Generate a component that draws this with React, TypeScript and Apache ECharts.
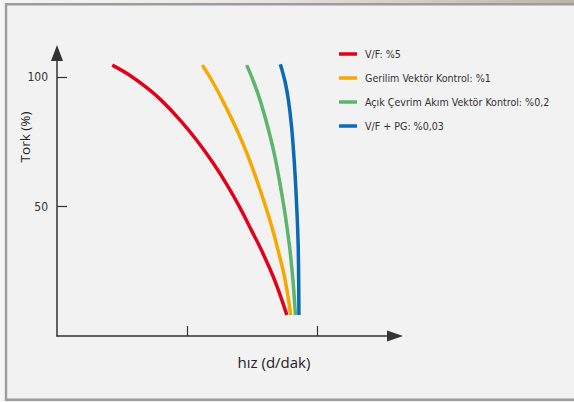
import React, { useEffect, useRef } from "react";
import * as echarts from "echarts";

const seriesNames = [
  "V/F: %5",
  "Gerilim Vektör Kontrol: %1",
  "Açık Çevrim Akım Vektör Kontrol: %0,2",
  "V/F + PG: %0,03",
];
const seriesColors = ["#e2001a", "#f6a800", "#5db46b", "#0a6ab4"];

const redX = [0.425, 0.556, 0.685, 0.801, 0.947, 1.073, 1.201, 1.309, 1.405, 1.495, 1.572, 1.674, 1.768];
const redY = [104.6, 100.8, 96.1, 91.1, 83.4, 75.7, 66.8, 58.3, 49.8, 40.9, 33.2, 21.6, 8.1];
const yellowX = [1.118, 1.198, 1.272, 1.366, 1.451, 1.532, 1.606, 1.655, 1.7, 1.755, 1.798];
const yellowY = [104.6, 98.1, 91.1, 81.5, 71.8, 60.9, 49.8, 41.7, 33.2, 21.6, 8.1];
const greenX = [1.459, 1.513, 1.562, 1.617, 1.665, 1.708, 1.746, 1.77, 1.792, 1.815, 1.834];
const greenY = [104.6, 98.1, 91.1, 81.5, 71.8, 60.9, 49.8, 41.7, 33.2, 21.6, 8.1];
const blueX = [1.718, 1.755, 1.78, 1.803, 1.819, 1.833, 1.844, 1.851, 1.856, 1.859, 1.861];
const blueY = [105.0, 98.1, 91.1, 81.5, 71.8, 60.9, 49.8, 41.7, 33.2, 21.6, 8.1];

const yTicks = [50, 100];
const xTicks = [1, 2];
const xAxisName = "hız (d/dak)";
const yAxisName = "Tork (%)";

const zip = (xs: number[], ys: number[]) => xs.map((x, i) => [x, ys[i]]);

export default function App() {
  const ref = useRef<HTMLDivElement>(null);
  useEffect(() => {
    if (!ref.current) return;
    const chart = echarts.init(ref.current, undefined, { renderer: "svg" });
    const allData = [
      zip(redX, redY),
      zip(yellowX, yellowY),
      zip(greenX, greenY),
      zip(blueX, blueY),
    ];
    const narrow = "'DejaVu Sans Condensed', 'Liberation Sans Narrow', sans-serif";
    chart.setOption({
      animation: false,
      backgroundColor: "#f2f2f2",
      graphic: [
        {
          type: "rect",
          silent: true,
          z: -10,
          shape: { x: 0, y: 0, width: 574, height: 3 },
          style: {
            fill: new echarts.graphic.LinearGradient(0, 0, 1, 0, [
              { offset: 0, color: "#f4f4f4" },
              { offset: 0.4, color: "#ece9e4" },
              { offset: 1, color: "#bdb4a6" },
            ]),
          },
        },
        {
          type: "rect",
          silent: true,
          z: -10,
          shape: { x: 0, y: 0, width: 5, height: 402 },
          style: { fill: "#f6f6f6" },
        },
        {
          type: "rect",
          silent: true,
          z: -9,
          shape: { x: 6, y: 4.2, width: 600, height: 395.6 },
          style: { fill: "none", stroke: "#9c9c9c", lineWidth: 2.4 },
        },
        {
          type: "text",
          x: 25,
          y: 137,
          rotation: Math.PI / 2,
          style: {
            text: yAxisName,
            fill: "#222",
            font: "13.5px 'Open Sans', sans-serif",
            align: "center",
            verticalAlign: "middle",
          },
        },
        {
          type: "text",
          x: 274,
          y: 362,
          style: {
            text: xAxisName,
            fill: "#222",
            font: "15px 'Open Sans', sans-serif",
            align: "center",
            verticalAlign: "middle",
          },
        },
      ],
      legend: {
        orient: "vertical",
        left: 334,
        top: 42,
        icon: "rect",
        itemWidth: 18,
        itemHeight: 3.5,
        itemGap: 10,
        textStyle: {
          fontFamily: narrow,
          fontSize: 10.6,
          color: "#333",
          lineHeight: 14,
          padding: [0, 0, 0, 3],
        },
        data: seriesNames,
      },
      grid: { left: 57, right: 179, top: 53, bottom: 66, containLabel: false },
      xAxis: {
        type: "value",
        min: 0,
        max: 2.6,
        interval: 1,
        axisLine: {
          show: true,
          symbol: ["none", "triangle"],
          symbolSize: [11, 16],
          lineStyle: { color: "#333", width: 1.5 },
        },
        axisTick: {
          show: true,
          inside: true,
          length: 10,
          customValues: xTicks,
          lineStyle: { color: "#333", width: 1.2 },
        },
        axisLabel: { show: false },
        splitLine: { show: false },
      },
      yAxis: {
        type: "value",
        min: 0,
        max: 109.3,
        interval: 50,
        axisLine: {
          show: true,
          symbol: ["none", "triangle"],
          symbolSize: [12, 16],
          lineStyle: { color: "#333", width: 1.5 },
        },
        axisTick: {
          show: true,
          inside: true,
          length: 10,
          customValues: yTicks,
          lineStyle: { color: "#333", width: 1.2 },
        },
        axisLabel: {
          show: true,
          customValues: yTicks,
          margin: 9,
          color: "#333",
          fontFamily: narrow,
          fontSize: 12,
        },
        splitLine: { show: false },
      },
      series: seriesNames.map((name, i) => ({
        name,
        type: "line",
        data: allData[i],
        smooth: 0.4,
        showSymbol: false,
        color: seriesColors[i],
        lineStyle: { width: 3.5, color: seriesColors[i], cap: "butt" },
      })),
    });
    return () => chart.dispose();
  }, []);
  return (
    <div
      ref={ref}
      style={{ position: "absolute", left: 0, top: 0, width: 574, height: 402 }}
    />
  );
}
